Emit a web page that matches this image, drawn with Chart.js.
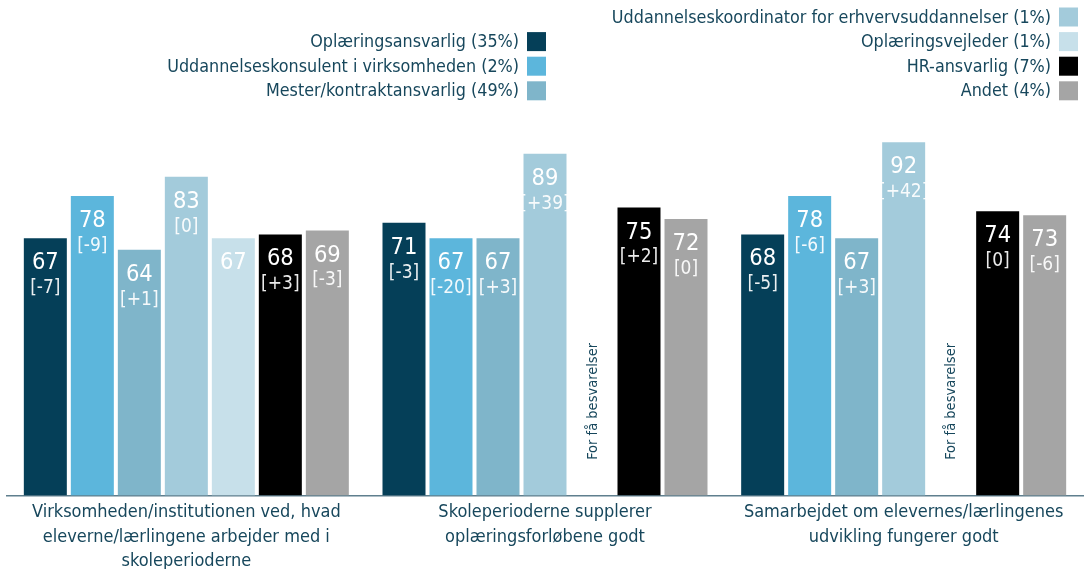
<!DOCTYPE html>
<html><head><meta charset="utf-8">
<script src="https://cdn.jsdelivr.net/npm/chart.js@4/dist/chart.umd.min.js"></script>
<style>html,body{margin:0;padding:0;background:#fff;overflow:hidden}#wrap{width:1088px;height:569px;position:relative}</style>
</head><body><div id="wrap"><canvas id="c" width="1088" height="569"></canvas></div>
<script>
// ---- data ----
const categories = [
  ["Virksomheden/institutionen ved, hvad", "eleverne/lærlingene arbejder med i", "skoleperioderne"],
  ["Skoleperioderne supplerer", "oplæringsforløbene godt"],
  ["Samarbejdet om elevernes/lærlingenes", "udvikling fungerer godt"]
];
const seriesNames = [
  "Oplæringsansvarlig (35%)",
  "Uddannelseskonsulent i virksomheden (2%)",
  "Mester/kontraktansvarlig (49%)",
  "Uddannelseskoordinator for erhvervsuddannelser (1%)",
  "Oplæringsvejleder (1%)",
  "HR-ansvarlig (7%)",
  "Andet (4%)"
];
const oplaeringsansvarlig      = [67, 71, 68];
const uddannelseskonsulent     = [78, 67, 78];
const mester                   = [64, 67, 67];
const uddannelseskoordinator   = [83, 89, 92];
const oplaeringsvejleder       = [67, null, null];
const hrAnsvarlig              = [68, 75, 74];
const andet                    = [69, 72, 73];

const chgOplaeringsansvarlig    = ["-7", "-3", "-5"];
const chgUddannelseskonsulent   = ["-9", "-20", "-6"];
const chgMester                 = ["+1", "+3", "+3"];
const chgUddannelseskoordinator = ["0", "+39", "+42"];
const chgOplaeringsvejleder     = [null, null, null];
const chgHrAnsvarlig            = ["+3", "+2", "0"];
const chgAndet                  = ["-3", "0", "-6"];

const tooFewText = "For få besvarelser";

// ---- styles ----
const seriesColors = ["#053f58", "#5cb6dc", "#7fb5ca", "#a3cbdb", "#c7e0ea", "#000000", "#a5a5a5"];
const FONT = "'DejaVu Sans Condensed', 'DejaVu Sans', sans-serif";
const TEXT_COLOR = "#17475c";

const values = [oplaeringsansvarlig, uddannelseskonsulent, mester, uddannelseskoordinator, oplaeringsvejleder, hrAnsvarlig, andet];
const changes = [chgOplaeringsansvarlig, chgUddannelseskonsulent, chgMester, chgUddannelseskoordinator, chgOplaeringsvejleder, chgHrAnsvarlig, chgAndet];

const datasets = values.map((v, i) => ({
  label: seriesNames[i],
  data: v,
  changes: changes[i],
  backgroundColor: seriesColors[i],
  borderWidth: 0,
  categoryPercentage: 0.9173,
  barPercentage: 0.9149
}));

const barLabels = {
  id: 'barLabels',
  afterDatasetsDraw(chart) {
    const ctx = chart.ctx;
    const yScale = chart.scales.y;
    chart.data.datasets.forEach((ds, di) => {
      const meta = chart.getDatasetMeta(di);
      meta.data.forEach((el, i) => {
        const v = ds.data[i];
        ctx.save();
        ctx.textAlign = 'center';
        ctx.textBaseline = 'middle';
        if (v == null) {
          ctx.translate(el.x + 1, yScale.getPixelForValue(24.5));
          ctx.rotate(-Math.PI / 2);
          ctx.fillStyle = TEXT_COLOR;
          ctx.font = "14.5px " + FONT;
          ctx.fillText(tooFewText, 0, 0);
        } else {
          ctx.fillStyle = '#ffffff';
          ctx.font = "23.5px " + FONT;
          ctx.fillText(String(Math.round(v)), el.x, el.y + 25);
          const c = ds.changes[i];
          if (c != null) {
            ctx.font = "19px " + FONT;
            ctx.fillStyle = 'rgba(255,255,255,0.92)';
            ctx.fillText('[' + c + ']', el.x, el.y + 50);
          }
        }
        ctx.restore();
      });
    });
  }
};

const customLegend = {
  id: 'customLegend',
  afterDraw(chart) {
    const ctx = chart.ctx;
    const cols = [
      { idx: [0, 1, 2], textRight: 519, boxX: 527, firstRow: 1 },
      { idx: [3, 4, 5, 6], textRight: 1051, boxX: 1059, firstRow: 0 }
    ];
    const rowY0 = 17, rowStep = 24.6, box = 19;
    ctx.save();
    ctx.font = "17.8px " + FONT;
    ctx.textAlign = 'right';
    ctx.textBaseline = 'middle';
    cols.forEach(col => {
      col.idx.forEach((di, k) => {
        const y = rowY0 + (col.firstRow + k) * rowStep;
        const ds = chart.data.datasets[di];
        ctx.fillStyle = ds.backgroundColor;
        ctx.fillRect(col.boxX, y - box / 2, box, box);
        ctx.fillStyle = TEXT_COLOR;
        ctx.fillText(ds.label, col.textRight, y + 1);
      });
    });
    ctx.restore();
  }
};

new Chart(document.getElementById('c'), {
  type: 'bar',
  data: { labels: categories, datasets },
  options: {
    responsive: false,
    animation: false,
    events: [],
    layout: { padding: { top: 111.5, left: 7, right: 5, bottom: 0 } },
    plugins: { legend: { display: false }, tooltip: { enabled: false } },
    scales: {
      x: {
        grid: { display: false, drawTicks: false },
        border: { display: true, color: '#5f7f8e', width: 1.5 },
        ticks: {
          color: TEXT_COLOR,
          font: { family: FONT, size: 18, lineHeight: 1.36 },
          padding: 5,
          maxRotation: 0, minRotation: 0, autoSkip: false
        },
        afterFit(scale) { scale.height = 73.5; }
      },
      y: {
        display: false,
        min: 0, max: 100
      }
    }
  },
  plugins: [barLabels, customLegend]
});
</script>
</body></html>
